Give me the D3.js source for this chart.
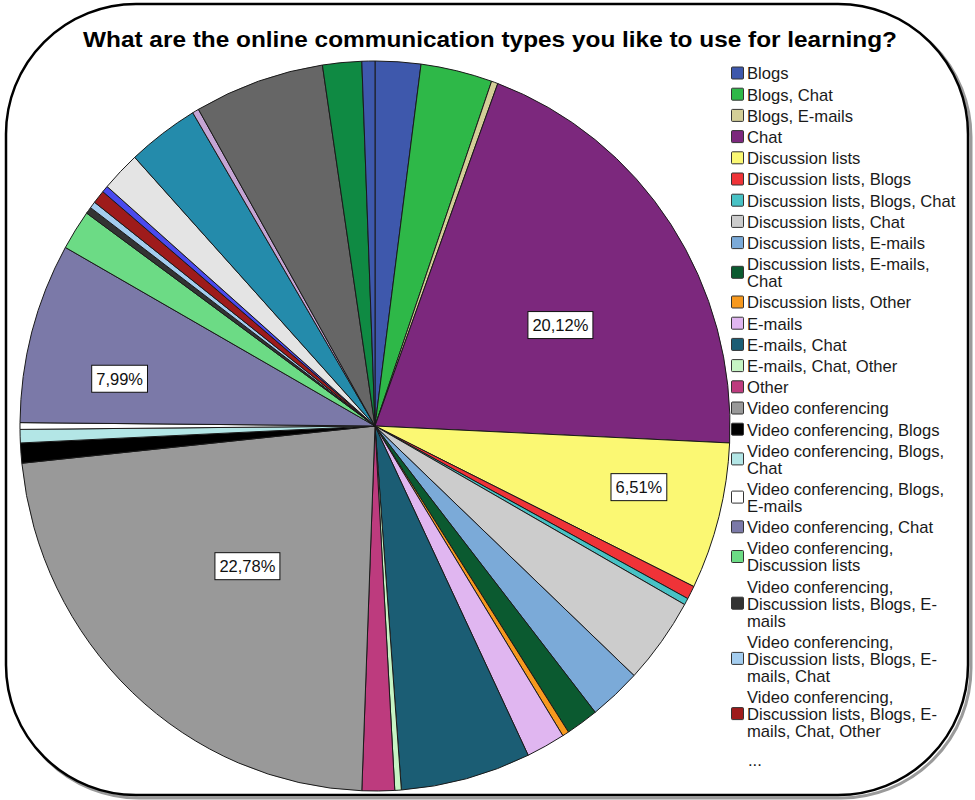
<!DOCTYPE html>
<html>
<head>
<meta charset="utf-8">
<script src="https://cdn.jsdelivr.net/npm/d3@7"></script>
<style>
  body { margin: 0; background: #fff; }
  svg { display: block; }
</style>
</head>
<body>
<div id="chart"></div>
<script>
// Chart data (counts, n = 338)
const titleText = "What are the online communication types you like to use for learning?";
const categories = [
    "Blogs", "Blogs, Chat", "Blogs, E-mails", "Chat", "Discussion lists",
    "Discussion lists, Blogs", "Discussion lists, Blogs, Chat", "Discussion lists, Chat",
    "Discussion lists, E-mails", "Discussion lists, E-mails, Chat", "Discussion lists, Other",
    "E-mails", "E-mails, Chat", "E-mails, Chat, Other", "Other", "Video conferencing",
    "Video conferencing, Blogs", "Video conferencing, Blogs, Chat",
    "Video conferencing, Blogs, E-mails", "Video conferencing, Chat",
    "Video conferencing, Discussion lists",
    "Video conferencing, Discussion lists, Blogs, E-mails",
    "Video conferencing, Discussion lists, Blogs, E-mails, Chat",
    "Video conferencing, Discussion lists, Blogs, E-mails, Chat, Other",
    // not shown in the legend ("...")
    "Video conferencing, Discussion lists, Chat",
    "Video conferencing, Discussion lists, E-mails",
    "Video conferencing, Discussion lists, E-mails, Chat",
    "Video conferencing, Discussion lists, Other",
    "Video conferencing, E-mails",
    "Video conferencing, E-mails, Chat",
    "Video conferencing, Other"
];
const counts = [7, 11, 1, 68, 22, 2, 1, 13, 8, 5, 1, 6, 20, 1, 5, 77, 3, 2, 1, 27, 6, 1, 1, 2,
    1, 6, 11, 1, 20, 6, 2];
const colors = [
    "#3e58ac", "#2eb848", "#d3ce97", "#7c287d", "#fbf873", "#ef3338", "#48c2c5", "#cccccc",
    "#7baad8", "#0b5a30", "#f7991e", "#e0b6f0", "#1b5d74", "#c6f4c4", "#bd3b7e", "#999999",
    "#000000", "#b3e6e6", "#ffffff", "#7b79a8", "#6cdb85", "#333333", "#a4cdef", "#9e1b1b",
    "#4a4aee", "#e4e4e4", "#248bab", "#c5a5d5", "#666666", "#0f8a43", "#3e58ac"
];
const legendCount = 24;

// label placement (fraction of radius, angle in degrees) for the boxed percentages
const labelPlacement = {
    "Chat": [0.591, 62.1],
    "Discussion lists": [0.762, 102.7],
    "Video conferencing": [0.526, 223.1],
    "Video conferencing, Chat": [0.731, 280.2]
};

const width = 975, height = 800;
const font = "'Liberation Sans', Arial, Helvetica, sans-serif";
const svg = d3.select("#chart").append("svg")
    .attr("width", width)
    .attr("height", height);

// Rounded frame with a light shadow
svg.append("rect")
    .attr("x", 9).attr("y", 7)
    .attr("width", 962).attr("height", 791)
    .attr("rx", 130).attr("ry", 130)
    .attr("fill", "none")
    .attr("stroke", "#9a9a9a")
    .attr("stroke-width", 3);
svg.append("rect")
    .attr("x", 6).attr("y", 4)
    .attr("width", 962).attr("height", 791)
    .attr("rx", 130).attr("ry", 130)
    .attr("fill", "#fff")
    .attr("stroke", "#000")
    .attr("stroke-width", 2.5);

// Title
svg.append("text")
    .attr("x", 490)
    .attr("y", 47)
    .attr("text-anchor", "middle")
    .attr("textLength", 814)
    .attr("lengthAdjust", "spacingAndGlyphs")
    .style("font-family", font)
    .style("font-weight", "bold")
    .style("font-size", "22px")
    .text(titleText);

// Pie
const data = categories.map((c, i) => ({ category: c, count: counts[i], color: colors[i] }));
const total = d3.sum(counts);
const radius = 355;
const scaleY = 365 / 355;
const pie = d3.pie().sort(null).value(d => d.count);
const arc = d3.arc().innerRadius(0).outerRadius(radius);
const arcs = pie(data);

const pieG = svg.append("g")
    .attr("transform", `translate(375,426) scale(1,${scaleY})`);

pieG.selectAll("path")
    .data(arcs)
    .join("path")
    .attr("d", arc)
    .attr("fill", d => d.data.color)
    .attr("stroke", "#1a1a1a")
    .attr("stroke-width", 1)
    .attr("vector-effect", "non-scaling-stroke");

// Percentage labels
const fmt = d3.format(".2f");
const labelG = svg.append("g").attr("transform", "translate(375,426)");
arcs.filter(d => d.data.count / total > 0.06).forEach(d => {
    const place = labelPlacement[d.data.category];
    const mid = (d.startAngle + d.endAngle) / 2;
    const frac = place ? place[0] : 0.65;
    const ang = place ? place[1] * Math.PI / 180 : mid;
    const p = d3.pointRadial(ang, radius * frac);
    const g = labelG.append("g").attr("transform", `translate(${p[0]},${p[1] * scaleY})`);
    const t = g.append("text")
        .attr("text-anchor", "middle")
        .attr("dy", "0.36em")
        .style("font-family", font)
        .style("font-size", "16.5px")
        .attr("fill", "#111")
        .text(fmt(d.data.count / total * 100).replace(".", ",") + "%");
    const w = t.node().getComputedTextLength() + 9;
    g.insert("rect", "text")
        .attr("x", -w / 2).attr("y", -13.5)
        .attr("width", w).attr("height", 27)
        .attr("fill", "#fff")
        .attr("stroke", "#111")
        .attr("stroke-width", 1);
});

// Legend
const legendFont = "16.6px";
const legend = svg.append("g");
const measure = legend.append("text")
    .style("font-family", font)
    .style("font-size", legendFont)
    .attr("visibility", "hidden");

function wrapLines(label, maxW) {
    const tokens = label.split(/(?<=[\s-])/);
    const lines = [];
    let line = "";
    tokens.forEach(tok => {
        const test = line + tok;
        measure.text(test.trimEnd());
        if (measure.node().getComputedTextLength() > maxW && line) {
            lines.push(line.trimEnd());
            line = tok;
        } else {
            line = test;
        }
    });
    lines.push(line.trimEnd());
    return lines;
}

const lineH = 17, rowGap = 4.2;
let yTop = 65;
data.slice(0, legendCount).forEach(d => {
    const lines = wrapLines(d.category, 214);
    const blockH = lines.length * lineH;
    legend.append("rect")
        .attr("x", 731.5)
        .attr("y", yTop + blockH / 2 - 6.5)
        .attr("width", 12)
        .attr("height", 12)
        .attr("rx", 1)
        .attr("fill", d.color)
        .attr("stroke", "#333")
        .attr("stroke-width", 1);
    const t = legend.append("text")
        .style("font-family", font)
        .style("font-size", legendFont)
        .attr("fill", "#1a1a1a");
    lines.forEach((l, i) => {
        t.append("tspan")
            .attr("x", 747)
            .attr("y", yTop + lineH / 2 + i * lineH)
            .attr("dy", "0.35em")
            .text(l);
    });
    yTop += blockH + rowGap;
});
legend.append("text")
    .attr("x", 748)
    .attr("y", yTop + 22)
    .style("font-family", font)
    .style("font-size", legendFont)
    .attr("fill", "#1a1a1a")
    .text("...");
measure.remove();
</script>
</body>
</html>
